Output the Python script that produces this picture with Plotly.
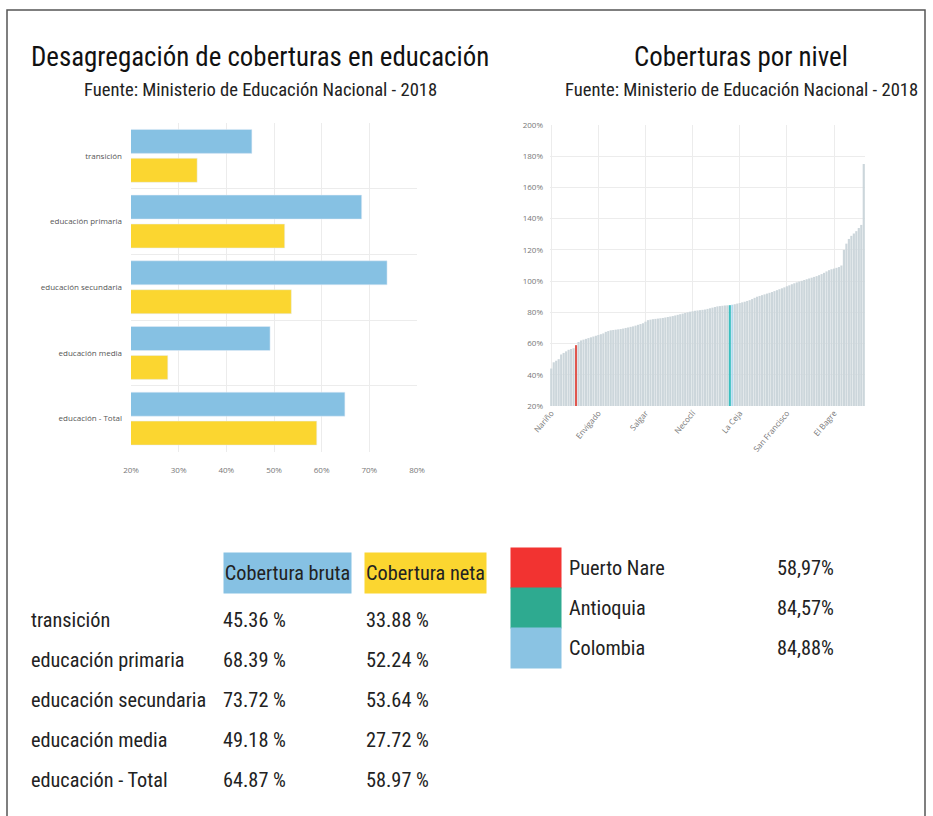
import plotly.graph_objects as go

W, H = 933, 816

# ---------------- data ----------------
niveles = ["transición", "educación primaria", "educación secundaria", "educación media", "educación - Total"]
cobertura_bruta = [45.36, 68.39, 73.72, 49.18, 64.87]
cobertura_neta = [33.88, 52.24, 53.64, 27.72, 58.97]

# sorted coverage by municipality (Antioquia) incl. department & country
cobertura_municipios = [
    44, 48, 49, 50, 53, 54, 55, 56, 56.5, 57,
    58.97, 61, 62, 62.5, 63, 63.5, 64, 64.5, 65, 65.5,
    66, 66.5, 67.5, 68, 68.5, 68.7, 68.9, 69.1, 69.3, 69.6,
    70, 70.3, 70.7, 71, 71.5, 72, 72.5, 73, 74, 75,
    75.3, 75.6, 75.8, 76, 76.2, 76.4, 76.7, 77, 77.3, 77.6,
    78, 78.4, 78.8, 79.2, 79.6, 80, 80.4, 80.7, 81, 81.2,
    81.4, 81.6, 81.8, 82.2, 82.6, 83, 83.4, 83.8, 84, 84.2,
    84.4, 84.5, 84.57, 84.88, 85.2, 85.6, 86, 86.4, 86.8, 87.3,
    87.8, 88.5, 89.3, 90, 90.5, 91, 91.5, 92, 92.5, 93,
    93.6, 94.2, 94.8, 95.4, 96, 96.7, 97.3, 98, 98.6, 99.2,
    99.7, 100.2, 100.7, 101.2, 101.7, 102.2, 102.7, 103.2, 103.8, 104.5,
    105.3, 106.2, 107, 107.6, 108, 108.5, 109, 110, 120, 124,
    127, 129, 130.5, 132, 134, 136, 175,
]
municipio_ticks = [0, 19, 38, 57, 76, 95, 114]
municipio_labels = ["Nariño", "Envigado", "Salgar", "Necoclí", "La Ceja", "San Francisco", "El Bagre"]
idx_puerto_nare, idx_antioquia, idx_colombia = 10, 72, 73

ref_names = ["Puerto Nare", "Antioquia", "Colombia"]
ref_values = ["58,97%", "84,57%", "84,88%"]
ref_colors = ["#f23331", "#2eaa90", "#8ac3e3"]

x_ticks_left = [20, 30, 40, 50, 60, 70, 80]
y_ticks_right = [20, 40, 60, 80, 100, 120, 140, 160, 180, 200]

BLUE = "#86c1e3"
YELLOW = "#fbd630"
GRAY_BAR = "#ccd6db"

NARROW = "Liberation Sans Narrow, Roboto Condensed, Arial Narrow, sans-serif"
SMALL = "Open Sans, sans-serif"


def px(x):
    return x / W


def py(y):
    return 1 - y / H


fig = go.Figure()

fig.add_trace(go.Bar(y=niveles, x=cobertura_bruta, orientation="h", marker_color=BLUE,
                     name="Cobertura bruta", xaxis="x", yaxis="y", showlegend=False))
fig.add_trace(go.Bar(y=niveles, x=cobertura_neta, orientation="h", marker_color=YELLOW,
                     name="Cobertura neta", xaxis="x", yaxis="y", showlegend=False))

colors = [GRAY_BAR] * len(cobertura_municipios)
colors[idx_puerto_nare] = "#e0564e"
colors[idx_antioquia] = "#3cbfc0"
colors[idx_colombia] = "#b3d9ee"
fig.add_trace(go.Bar(x=list(range(len(cobertura_municipios))), y=cobertura_municipios,
                     marker=dict(color=colors, line=dict(width=0)), width=0.86,
                     xaxis="x2", yaxis="y2", showlegend=False))

tickfont = dict(family=SMALL, size=8, color="#777")

fig.update_layout(
    width=W, height=H, margin=dict(l=0, r=0, t=0, b=0, autoexpand=False),
    paper_bgcolor="white", plot_bgcolor="white",
    barmode="group", bargap=0.12, bargroupgap=0.17,
    xaxis=dict(domain=[px(131), px(417)], range=[20, 80], tickvals=x_ticks_left,
               ticktext=[f"{v}%" for v in x_ticks_left],
               showgrid=True, gridcolor="#ececec", zeroline=False,
               showline=False, tickfont=tickfont, anchor="y", ticklabelstandoff=12),
    yaxis=dict(domain=[py(451.5), py(123)], autorange="reversed", type="category",
               tickson="boundaries", showgrid=True, gridcolor="#ececec", ticks="",
               tickfont=dict(family=SMALL, size=8, color="#555"), anchor="x",
               ticklabelstandoff=8),
    xaxis2=dict(domain=[px(550), px(865)], range=[-0.5, len(cobertura_municipios) - 0.5],
                tickvals=municipio_ticks, ticktext=municipio_labels, tickangle=-50,
                showgrid=True, gridcolor="#ececec", zeroline=False, tickfont=tickfont,
                anchor="y2"),
    yaxis2=dict(domain=[py(406), py(125)], range=[20, 200], tickvals=y_ticks_right,
                ticktext=[f"{v}%" for v in y_ticks_right],
                showgrid=True, gridcolor="#ececec", zeroline=False,
                tickfont=tickfont, anchor="x2", ticklabelstandoff=6),
)

ann = []
# titles
ann.append(dict(x=px(260), y=py(57), text="Desagregación de coberturas en educación",
                font=dict(family=NARROW, size=26.9, color="#111")))
ann.append(dict(x=px(260), y=py(90), text="Fuente: Ministerio de Educación Nacional - 2018",
                font=dict(family=NARROW, size=18.6, color="#222")))
ann.append(dict(x=px(741), y=py(57), text="Coberturas por nivel",
                font=dict(family=NARROW, size=26.9, color="#111")))
ann.append(dict(x=px(741), y=py(90), text="Fuente: Ministerio de Educación Nacional - 2018",
                font=dict(family=NARROW, size=18.6, color="#222")))
for a in ann:
    a.update(xref="paper", yref="paper", showarrow=False, xanchor="center", yanchor="middle")

tfont = dict(family=NARROW, size=20.3, color="#222")
table = []
table.append(dict(x=px(222.5), y=py(573), text="Cobertura bruta", bgcolor=BLUE,
                  width=127, height=40, align="center"))
table.append(dict(x=px(364), y=py(573), text="Cobertura neta", bgcolor=YELLOW,
                  width=121, height=40, align="center"))
for i, (n, b, ne) in enumerate(zip(niveles, cobertura_bruta, cobertura_neta)):
    yy = py(620 + 40 * i)
    table.append(dict(x=px(30), y=yy, text=n))
    table.append(dict(x=px(222), y=yy, text=f"{b:.2f} %"))
    table.append(dict(x=px(365), y=yy, text=f"{ne:.2f} %"))
for i, (n, v, c) in enumerate(zip(ref_names, ref_values, ref_colors)):
    yy = py(568 + 40 * i)
    table.append(dict(x=px(510), y=yy, text=" ", bgcolor=c, width=50, height=40))
    table.append(dict(x=px(568), y=yy, text=n))
    table.append(dict(x=px(835), y=yy, text=v, xanchor="right"))
for a in table:
    a.setdefault("xanchor", "left")
    a.update(xref="paper", yref="paper", showarrow=False, yanchor="middle",
             font=tfont, borderpad=0)

fig.update_layout(annotations=ann + table)

fig.add_shape(type="rect", xref="paper", yref="paper", x0=px(7), x1=px(925), y0=-0.1, y1=py(10),
              line=dict(color="#555", width=1.5), layer="above")

fig.write_html("out.html", config={"displayModeBar": False},
               post_script="document.body.style.margin='0';")
